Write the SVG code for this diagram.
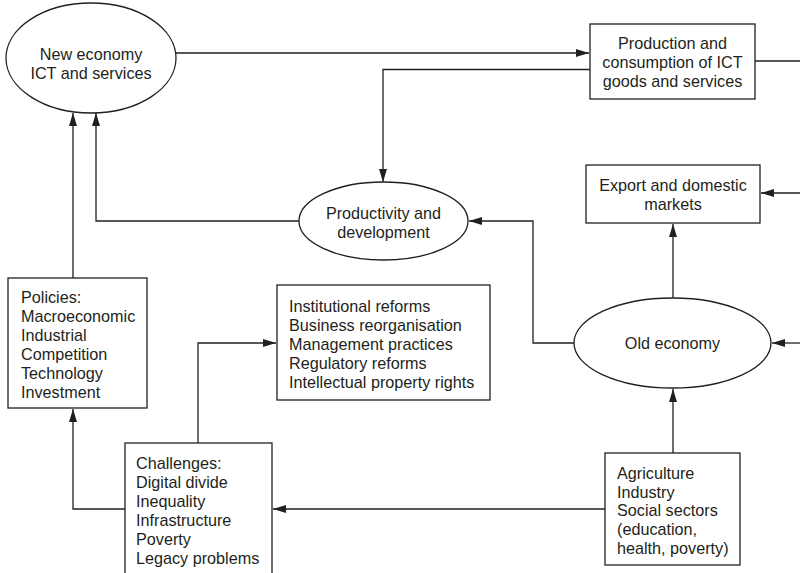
<svg xmlns="http://www.w3.org/2000/svg" width="800" height="573" viewBox="0 0 800 573">
<style>
.n{fill:#fff;stroke:#231f20;stroke-width:1.3}
.c{fill:none;stroke:#231f20;stroke-width:1.3}
text{font-family:"Liberation Sans",Arial,sans-serif;font-size:16.2px;fill:#231f20}
.m{text-anchor:middle}
</style>
<defs>
<marker id="a" markerWidth="14" markerHeight="10" refX="13" refY="5" orient="auto" markerUnits="userSpaceOnUse">
<path d="M0,1 L13,5 L0,9 Z" fill="#231f20"/>
</marker>
</defs>
<g id="connectors">
<path class="c" d="M176,53 H589" marker-end="url(#a)"/>
<path class="c" d="M590,69.5 H383 V182" marker-end="url(#a)"/>
<path class="c" d="M755,61 H800"/>
<path class="c" d="M800,193 H761" marker-end="url(#a)"/>
<path class="c" d="M800,343 H772" marker-end="url(#a)"/>
<path class="c" d="M299,221 H96 V113" marker-end="url(#a)"/>
<path class="c" d="M73,278 V113" marker-end="url(#a)"/>
<path class="c" d="M125,509 H73 V409" marker-end="url(#a)"/>
<path class="c" d="M605,509 H273" marker-end="url(#a)"/>
<path class="c" d="M198,443 V343 H276" marker-end="url(#a)"/>
<path class="c" d="M574,343 H533 V221 H469" marker-end="url(#a)"/>
<path class="c" d="M673,298 V224" marker-end="url(#a)"/>
<path class="c" d="M673,453 V389" marker-end="url(#a)"/>
</g>
<g id="new-economy">
<ellipse class="n" cx="91" cy="58" rx="85" ry="55"/>
<text class="m" x="91" y="59.5">New economy</text>
<text class="m" x="91" y="78.5">ICT and services</text>
</g>
<g id="production">
<rect class="n" x="590" y="24" width="165" height="75"/>
<text class="m" x="672.5" y="48.5">Production and</text>
<text class="m" x="672.5" y="67.5">consumption of ICT</text>
<text class="m" x="672.5" y="86.5">goods and services</text>
</g>
<g id="productivity">
<ellipse class="n" cx="383.5" cy="221" rx="84.5" ry="39"/>
<text class="m" x="383.5" y="218.5">Productivity and</text>
<text class="m" x="383.5" y="237.5">development</text>
</g>
<g id="export">
<rect class="n" x="586" y="165" width="174" height="58"/>
<text class="m" x="673" y="190.5">Export and domestic</text>
<text class="m" x="673" y="209.5">markets</text>
</g>
<g id="policies">
<rect class="n" x="8" y="278" width="139" height="130"/>
<text x="21" y="302.5">Policies:</text>
<text x="21" y="321.5">Macroeconomic</text>
<text x="21" y="340.5">Industrial</text>
<text x="21" y="359.5">Competition</text>
<text x="21" y="378.5">Technology</text>
<text x="21" y="397.5">Investment</text>
</g>
<g id="institutional">
<rect class="n" x="277" y="285" width="213" height="115"/>
<text x="289" y="311.5">Institutional reforms</text>
<text x="289" y="330.5">Business reorganisation</text>
<text x="289" y="349.5">Management practices</text>
<text x="289" y="368.5">Regulatory reforms</text>
<text x="289" y="387.5">Intellectual property rights</text>
</g>
<g id="old-economy">
<ellipse class="n" cx="672.5" cy="343" rx="98.5" ry="45"/>
<text class="m" x="672.5" y="349">Old economy</text>
</g>
<g id="challenges">
<rect class="n" x="125" y="443" width="147" height="140"/>
<text x="136" y="468.5">Challenges:</text>
<text x="136" y="487.5">Digital divide</text>
<text x="136" y="506.5">Inequality</text>
<text x="136" y="525.5">Infrastructure</text>
<text x="136" y="544.5">Poverty</text>
<text x="136" y="563.5">Legacy problems</text>
</g>
<g id="sectors">
<rect class="n" x="605" y="453" width="135" height="112"/>
<text x="617" y="478.5">Agriculture</text>
<text x="617" y="497.5">Industry</text>
<text x="617" y="515.5">Social sectors</text>
<text x="617" y="534.5">(education,</text>
<text x="617" y="553.5">health, poverty)</text>
</g>
</svg>
